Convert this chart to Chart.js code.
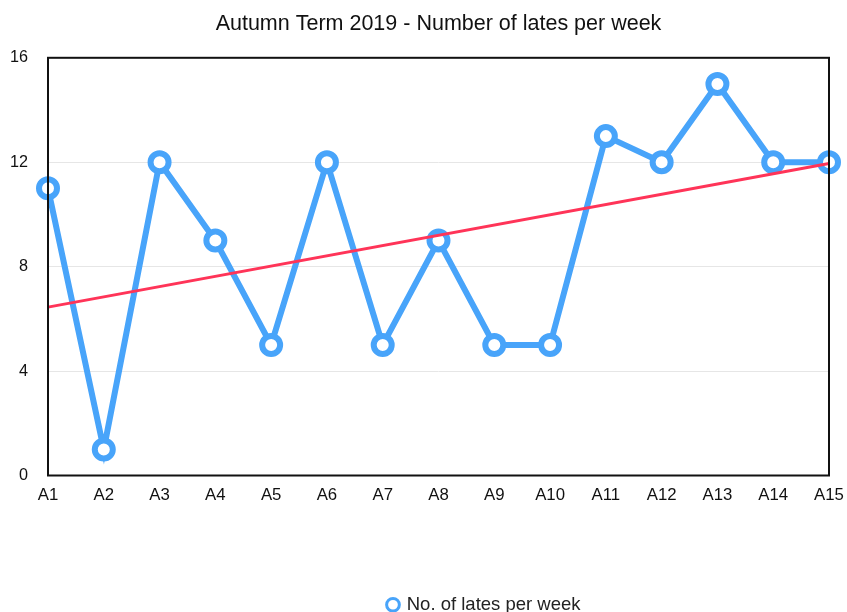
<!DOCTYPE html>
<html>
<head>
<meta charset="utf-8">
<script src="https://cdn.jsdelivr.net/npm/chart.js@4/dist/chart.umd.min.js"></script>
<style>
  html, body { margin: 0; padding: 0; background: #fff; }
  #wrap { width: 847px; height: 612px; }
</style>
</head>
<body>
<div id="wrap"><canvas id="c" width="847" height="612"></canvas></div>
<script>
const titleText = "Autumn Term 2019 - Number of lates per week";
const seriesLabel = "No. of lates per week";
const categories = ["A1","A2","A3","A4","A5","A6","A7","A8","A9","A10","A11","A12","A13","A14","A15"];
const lates = [11, 1, 12, 9, 5, 12, 5, 9, 5, 5, 13, 12, 15, 12, 12];
// trend line end values (at A1 and A15)
const trendStart = 6.45;
const trendEnd = 11.95;
const yTicks = [0, 4, 8, 12, 16];

const trendData = categories.map((c, i) => i === 0 ? trendStart : (i === categories.length - 1 ? trendEnd : null));

const FONT = "'Liberation Sans', Arial, Helvetica, sans-serif";
const BLUE = "rgb(72,164,250)";
const RED = "rgb(255,52,88)";

const frame = {
  id: 'frame',
  afterLayout(chart) {
    const l = chart.legend;
    if (l) {
      const dx = 66, dy = 14;
      l.left += dx; l.right += dx; l.top += dy; l.bottom += dy;
    }
    const t = chart.titleBlock;
    if (t) {
      const a = chart.chartArea;
      const dx = (a.left + a.right) / 2 - (t.left + t.right) / 2;
      t.left += dx; t.right += dx;
    }
  },
  afterDatasetsDraw(chart) {
    const a = chart.chartArea, ctx = chart.ctx;
    ctx.save();
    ctx.strokeStyle = '#111';
    ctx.lineWidth = 2;
    ctx.strokeRect(a.left, a.top, a.right - a.left, a.bottom - a.top);
    ctx.restore();
  }
};

new Chart(document.getElementById('c'), {
  type: 'line',
  data: {
    labels: categories,
    datasets: [
      {
        label: 'trend',
        data: trendData,
        spanGaps: true,
        borderColor: RED,
        borderWidth: 3,
        pointRadius: 0,
        pointHoverRadius: 0,
        fill: false,
        tension: 0
      },
      {
        label: seriesLabel,
        data: lates,
        borderColor: BLUE,
        backgroundColor: '#fff',
        borderWidth: 6,
        pointRadius: 9,
        pointBorderWidth: 6,
        pointBackgroundColor: '#fff',
        pointBorderColor: BLUE,
        fill: false,
        tension: 0
      }
    ]
  },
  plugins: [frame],
  options: {
    responsive: false,
    animation: false,
    layout: { padding: { left: 8, right: 18, top: 0, bottom: 2 } },
    plugins: {
      title: {
        display: true,
        text: titleText,
        color: '#111',
        font: { family: FONT, size: 21.5, weight: 'normal' },
        padding: { top: 11, bottom: 21 }
      },
      legend: {
        position: 'bottom',
        labels: {
          color: '#222',
          font: { family: FONT, size: 18.5 },
          usePointStyle: true,
          boxWidth: 9,
          boxHeight: 9,
          padding: 4,
          filter: (item) => item.text === seriesLabel,
          generateLabels: (chart) => {
            const items = Chart.defaults.plugins.legend.labels.generateLabels(chart);
            items.forEach(it => { it.lineWidth = 3; it.fillStyle = '#fff'; it.pointStyle = 'circle'; });
            return items;
          }
        }
      },
      tooltip: { enabled: false }
    },
    scales: {
      x: {
        grid: { display: false, drawTicks: false },
        border: { display: false },
        offset: false,
        ticks: {
          color: '#111',
          font: { family: FONT, size: 16.8 },
          padding: 10,
          maxRotation: 0,
          autoSkip: false
        },
        afterFit: (scale) => { scale.height = 102; scale.paddingLeft = 0; scale.paddingRight = 0; }
      },
      y: {
        min: 0,
        max: 16,
        afterBuildTicks: (scale) => { scale.ticks = yTicks.map(v => ({ value: v })); },
        grid: { color: '#e6e6e6', lineWidth: 1, drawTicks: false },
        border: { display: false },
        ticks: {
          color: '#111',
          font: { family: FONT, size: 16.2 },
          padding: 20
        },
        afterFit: (scale) => { scale.width = 40; }
      }
    }
  }
});
</script>
</body>
</html>
